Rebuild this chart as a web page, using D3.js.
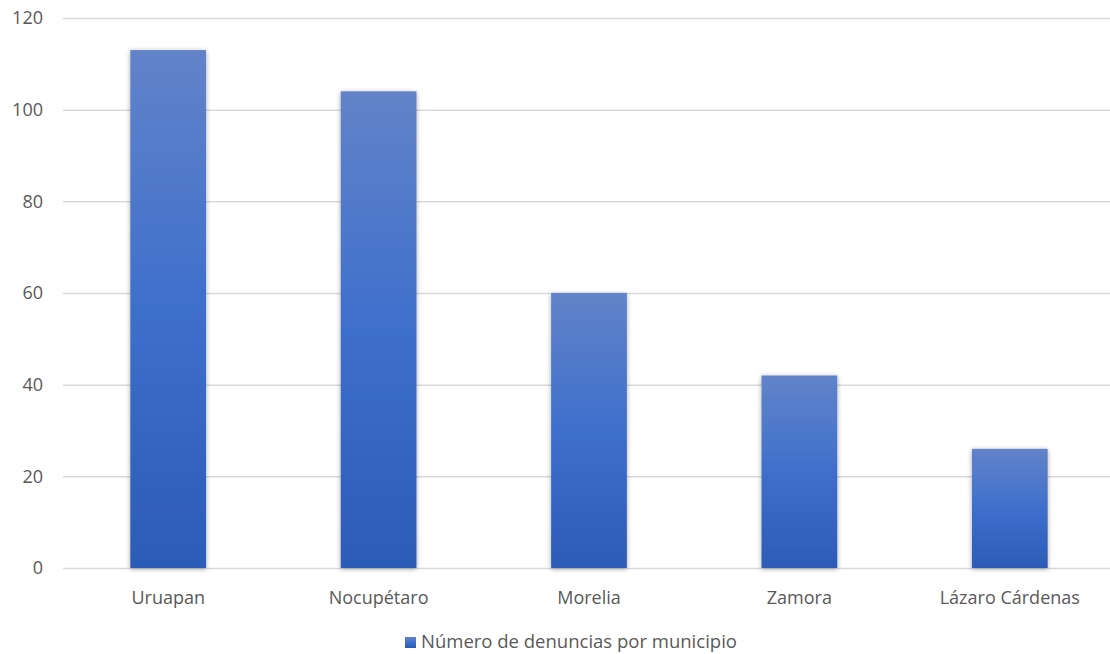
<!DOCTYPE html>
<html><head><meta charset="utf-8">
<script src="https://cdn.jsdelivr.net/npm/d3@7/dist/d3.min.js"></script>
<style>body{margin:0;background:#fff;}svg{display:block;}</style>
</head><body>
<svg id="c" width="1110" height="654"></svg>
<script>
const categories = ["Uruapan","Nocupétaro","Morelia","Zamora","Lázaro Cárdenas"];
const values = [113,104,60,42,26];
const yTicks = [0,20,40,60,80,100,120];
const seriesName = "Número de denuncias por municipio";

const svg = d3.select("#c");
const font = "'Open Sans', sans-serif";
const fs = 18;
const x = d3.scaleBand().domain(categories).range([63,1115]).paddingInner(0.64).paddingOuter(0.32);
const y = d3.scaleLinear().domain([0,120]).range([568,18]);

const defs = svg.append("defs");
const g = defs.append("linearGradient").attr("id","bg").attr("x1",0).attr("y1",0).attr("x2",0).attr("y2",1);
g.append("stop").attr("offset","0%").attr("stop-color","#6283c9");
g.append("stop").attr("offset","50%").attr("stop-color","#3e6fcc");
g.append("stop").attr("offset","100%").attr("stop-color","#2c5bb8");
const f = defs.append("filter").attr("id","sh").attr("x","-20%").attr("y","-20%").attr("width","140%").attr("height","140%");
f.append("feDropShadow").attr("dx",0).attr("dy",1).attr("stdDeviation",2.5).attr("flood-color","#000").attr("flood-opacity",0.35);

svg.append("g").selectAll("line").data(yTicks).join("line")
  .attr("x1",63).attr("x2",1115).attr("y1",d=>y(d)+0.5).attr("y2",d=>y(d)+0.5)
  .attr("stroke","#d9d9d9").attr("stroke-width",1.5);

svg.append("g").selectAll("text").data(yTicks).join("text")
  .attr("x",43).attr("y",d=>y(d)).attr("dy","0.35em").attr("text-anchor","end")
  .attr("font-family",font).attr("font-size",fs).attr("fill","#595959").text(d=>d);

svg.append("g").selectAll("rect").data(values).join("rect")
  .attr("x",(d,i)=>x(categories[i])).attr("width",x.bandwidth())
  .attr("y",d=>y(d)).attr("height",d=>y(0)-y(d))
  .attr("fill","url(#bg)").attr("filter","url(#sh)");

svg.append("g").selectAll("text").data(categories).join("text")
  .attr("x",d=>x(d)+x.bandwidth()/2).attr("y",604).attr("text-anchor","middle")
  .attr("font-family",font).attr("font-size",fs).attr("fill","#595959").text(d=>d);

const lg = svg.append("g");
lg.append("rect").attr("x",405).attr("y",637).attr("width",11).attr("height",11).attr("fill","url(#bg)");
lg.append("text").attr("x",421).attr("y",648).attr("font-family",font).attr("font-size",18.5)
  .attr("fill","#595959").text(seriesName);
</script>
</body></html>
